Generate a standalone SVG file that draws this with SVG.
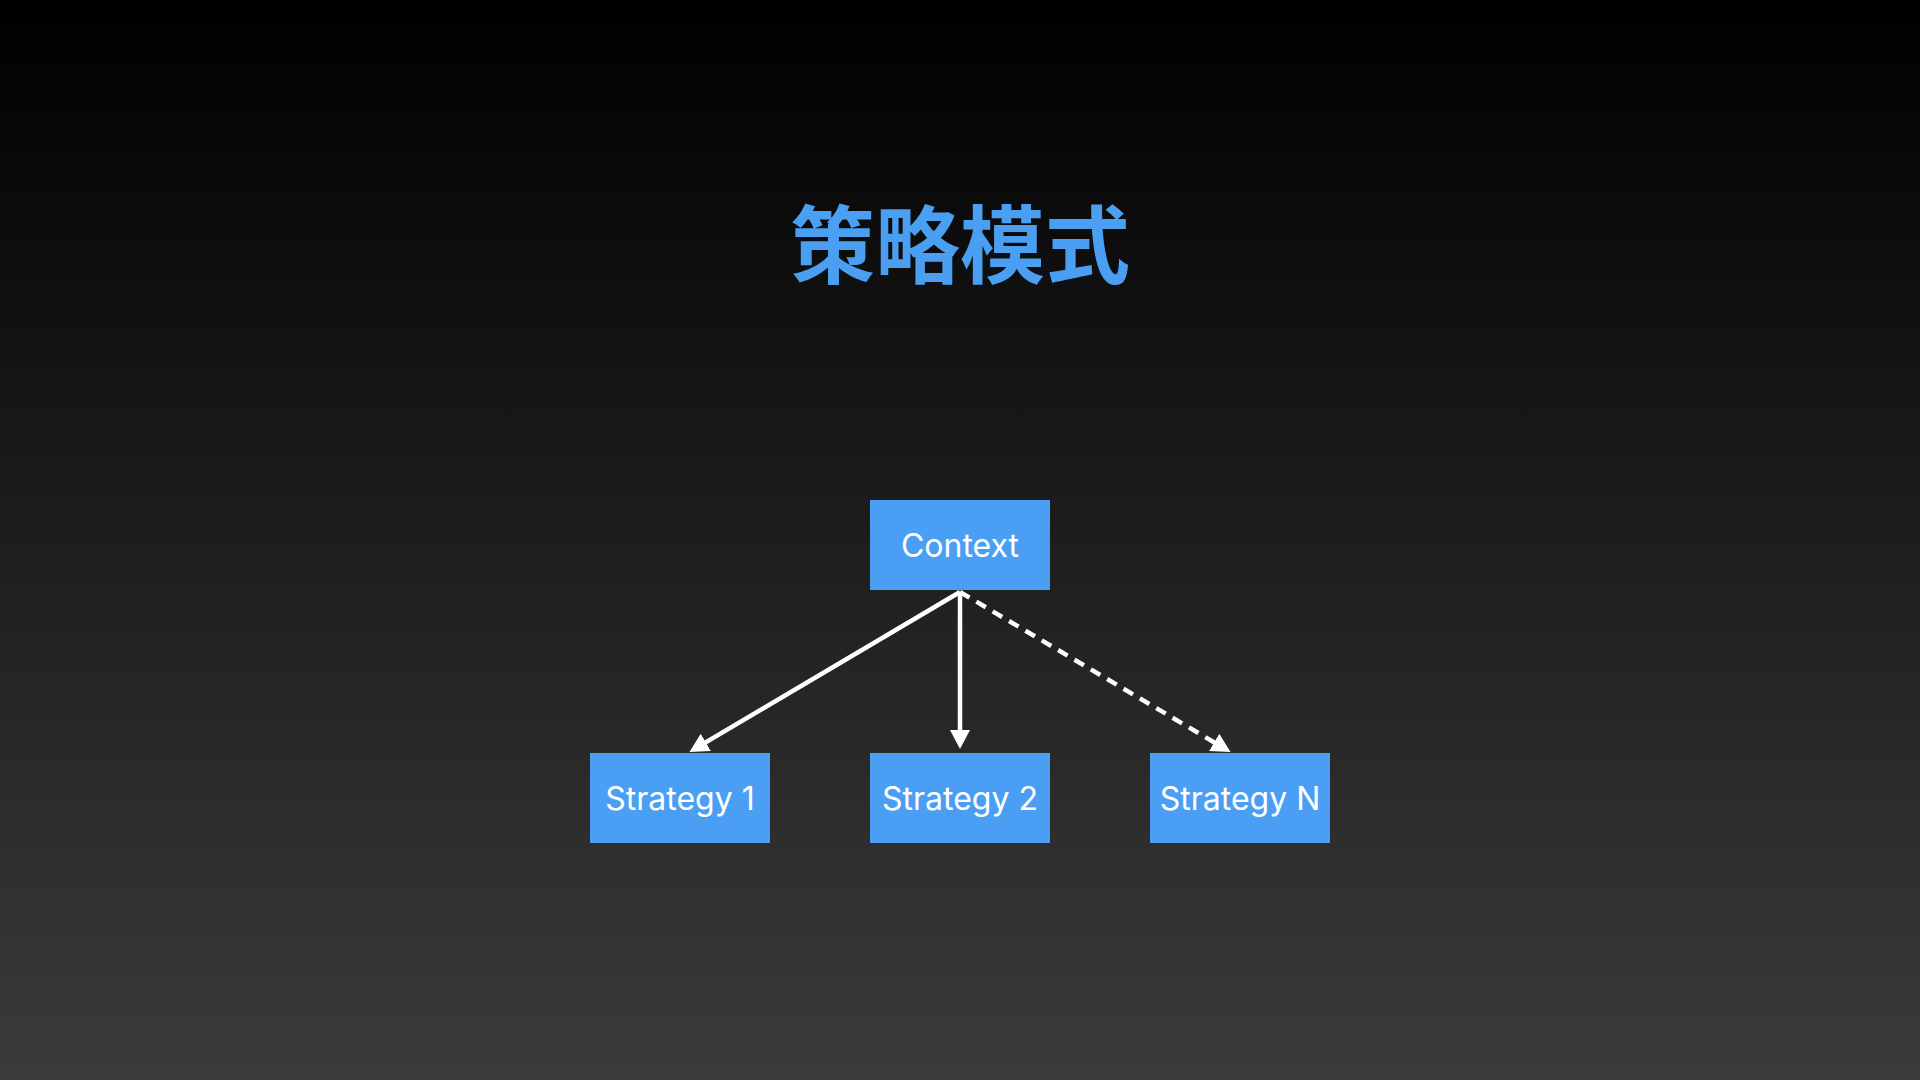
<svg xmlns="http://www.w3.org/2000/svg" width="1920" height="1080" viewBox="0 0 1920 1080">
  <style>
    .box { fill: #4A9FF5; }
    .label { font-family: Inter, "Liberation Sans", "Noto Sans", sans-serif; font-size: 32px; fill: #FFFFFF; text-anchor: middle; }
    .title { font-family: "Noto Sans CJK SC", "Noto Sans", sans-serif; font-size: 85px; font-weight: bold; fill: #4A9FF2; text-anchor: middle; }
    .conn { stroke: #FFFFFF; stroke-width: 4.5; fill: none; marker-end: url(#arrow); }
    .dashed { stroke-dasharray: 11 8; }
  </style>
  <defs>
    <linearGradient id="bg" x1="0" y1="0" x2="0" y2="1">
      <stop offset="0" stop-color="#000000"/>
      <stop offset="1" stop-color="#3B3B3B"/>
    </linearGradient>
    <marker id="arrow" viewBox="0 0 19 20" refX="7" refY="10" markerWidth="19" markerHeight="20" markerUnits="userSpaceOnUse" orient="auto">
      <path d="M0,0 L19,10 L0,20 Z" fill="#FFFFFF"/>
    </marker>
  </defs>
  <rect x="0" y="0" width="1920" height="1080" fill="url(#bg)"/>
  <text class="title" x="960" y="277">策略模式</text>
  <g id="connectors">
    <line class="conn" x1="960" y1="592" x2="699.8" y2="745.9"/>
    <line class="conn" x1="960" y1="592" x2="960" y2="737"/>
    <line class="conn dashed" x1="960" y1="592" x2="1220.2" y2="745.9"/>
  </g>
  <g id="context">
    <rect class="box" x="870" y="500" width="180" height="90"/>
    <text class="label" x="960" y="557">Context</text>
  </g>
  <g id="strategy1">
    <rect class="box" x="590" y="753" width="180" height="90"/>
    <text class="label" x="680" y="810">Strategy 1</text>
  </g>
  <g id="strategy2">
    <rect class="box" x="870" y="753" width="180" height="90"/>
    <text class="label" x="960" y="810">Strategy 2</text>
  </g>
  <g id="strategyN">
    <rect class="box" x="1150" y="753" width="180" height="90"/>
    <text class="label" x="1240" y="810">Strategy N</text>
  </g>
</svg>
